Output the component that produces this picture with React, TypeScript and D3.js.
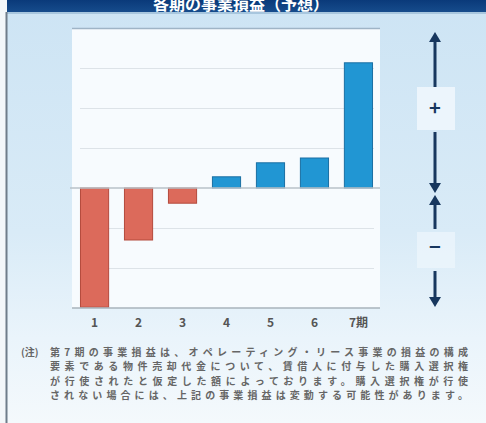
import React from "react";
import * as d3 from "d3";

const categories = ["1", "2", "3", "4", "5", "6", "7期"];
const values = [-2.98, -1.3, -0.38, 0.28, 0.63, 0.75, 3.13];
const gridTicks = [-2, -1, 1, 2, 3];
const title = "各期の事業損益（予想）";
const noteLabel = "(注)";
const noteLines = [
  "第7期の事業損益は、オペレーティング・リース事業の損益の構成",
  "要素である物件売却代金について、賃借人に付与した購入選択権",
  "が行使されたと仮定した額によっております。購入選択権が行使",
  "されない場合には、上記の事業損益は変動する可能性があります。",
];

const W = 486;
const H = 423;
const FONT = "'Noto Sans CJK JP', 'Noto Sans', sans-serif";

export default function App() {
  const x = d3
    .scaleBand<string>()
    .domain(categories)
    .range([73, 380])
    .paddingInner(0.36)
    .paddingOuter(0.17);
  const y = d3.scaleLinear().domain([-3, 4]).range([308, 28]);
  const navy = "#17375e";
  const ax = 435;

  const arrowHead = (tipY: number, dir: number) => {
    const h = 10;
    const w = 6;
    return `M${ax},${tipY} L${ax - w},${tipY - dir * h} L${ax + w},${tipY - dir * h} Z`;
  };

  return (
    <svg
      width={W}
      height={H}
      style={{ position: "absolute", left: 0, top: 0, display: "block" }}
    >
      <defs>
        <linearGradient id="bg" x1="0" y1="0" x2="0" y2="1">
          <stop offset="0" stopColor="#cde4f4" />
          <stop offset="0.55" stopColor="#d9ebf7" />
          <stop offset="0.8" stopColor="#eaf4fb" />
          <stop offset="1" stopColor="#f4f9fc" />
        </linearGradient>
        <linearGradient id="hdr" x1="0" y1="0" x2="0" y2="1">
          <stop offset="0" stopColor="#0a3a7a" />
          <stop offset="1" stopColor="#164c8c" />
        </linearGradient>
      </defs>
      <rect x={0} y={0} width={W} height={H} fill="#f3f7fa" />
      <rect x={7} y={0} width={W - 7} height={H} fill="url(#bg)" />
      <rect x={7} y={0} width={W - 7} height={12} fill="url(#hdr)" />
      <rect x={7} y={12} width={W - 7} height={2} fill="#8fb2cf" opacity={0.6} />
      <text
        x={241}
        y={10}
        textAnchor="middle"
        fill="#ffffff"
        fontFamily={FONT}
        fontWeight="bold"
        fontSize={16}
      >
        {title}
      </text>
      <rect x={5.5} y={12} width={2} height={H - 12} fill="#6f7d8a" />

      {/* chart panel */}
      <rect x={72} y={28} width={308} height={280} fill="#f7fbfe" />
      <line x1={72} x2={380} y1={28.5} y2={28.5} stroke="#9fb4c6" strokeWidth={1.5} />
      {gridTicks.map((t) => (
        <line
          key={t}
          x1={80}
          x2={374}
          y1={Math.round(y(t)) + 0.5}
          y2={Math.round(y(t)) + 0.5}
          stroke="#dde3e8"
          strokeWidth={1.2}
        />
      ))}

      {values.map((v, i) => {
        const x0 = x(categories[i])!;
        const y0 = y(Math.max(0, v));
        const h = Math.abs(y(v) - y(0));
        const pos = v >= 0;
        return (
          <rect
            key={i}
            x={x0}
            y={y0}
            width={x.bandwidth()}
            height={h}
            fill={pos ? "#2196d3" : "#dc6a5b"}
            stroke={pos ? "#1a6fa3" : "#b44a3d"}
            strokeWidth={1}
          />
        );
      })}

      <line x1={70} x2={380} y1={y(0)} y2={y(0)} stroke="#b9c2c9" strokeWidth={1.5} />
      <line x1={72} x2={380} y1={308} y2={308} stroke="#a9b3bb" strokeWidth={1.5} />

      {categories.map((c) => (
        <text
          key={c}
          x={x(c)! + x.bandwidth() / 2}
          y={327}
          textAnchor="middle"
          fill="#555"
          fontFamily={FONT}
          fontWeight="bold"
          fontSize={12}
        >
          {c}
        </text>
      ))}

      {/* plus / minus arrows */}
      <line x1={ax} x2={ax} y1={40} y2={87} stroke={navy} strokeWidth={3} />
      <path d={arrowHead(32, -1)} fill={navy} />
      <rect x={417} y={87} width={38} height={43} fill="#f4f9fd" opacity={0.75} />
      <text
        x={ax}
        y={115}
        textAnchor="middle"
        fill={navy}
        fontFamily={FONT}
        fontWeight="bold"
        fontSize={20}
      >
        +
      </text>
      <line x1={ax} x2={ax} y1={132} y2={185} stroke={navy} strokeWidth={3} />
      <path d={arrowHead(193, 1)} fill={navy} />
      <path d={arrowHead(195, -1)} fill={navy} />
      <line x1={ax} x2={ax} y1={203} y2={229} stroke={navy} strokeWidth={3} />
      <rect x={417} y={232} width={38} height={36} fill="#eef6fc" opacity={0.7} />
      <text
        x={ax}
        y={254}
        textAnchor="middle"
        fill={navy}
        fontFamily={FONT}
        fontWeight="bold"
        fontSize={20}
      >
        −
      </text>
      <line x1={ax} x2={ax} y1={271} y2={299} stroke={navy} strokeWidth={3} />
      <path d={arrowHead(307, 1)} fill={navy} />

      {/* footnote */}
      <text
        x={21}
        y={356}
        fill="#666"
        fontFamily={FONT}
        fontWeight="bold"
        fontSize={10}
      >
        {noteLabel}
      </text>
      {noteLines.map((l, i) => (
        <text
          key={i}
          x={50}
          y={356 + i * 14.4}
          fill="#666"
          fontFamily={FONT}
          fontWeight="bold"
          fontSize={10}
          textLength={418}
          lengthAdjust="spacing"
        >
          {l}
        </text>
      ))}
    </svg>
  );
}
